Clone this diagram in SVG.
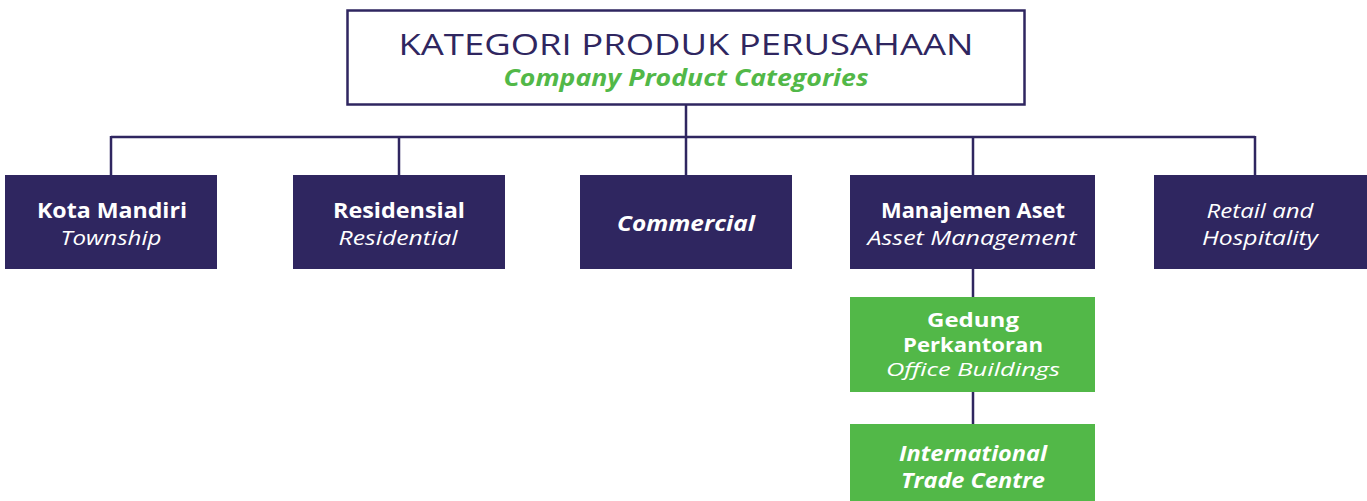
<svg xmlns="http://www.w3.org/2000/svg" width="1367" height="501" viewBox="0 0 1367 501">
<style>
text{font-family:"Open Sans",Lato,"Liberation Sans",sans-serif;text-anchor:middle}
.n{fill:#2f2660}
.g{fill:#52b848}
.b{font-weight:bold;font-size:20.5px;fill:#fff}
.i{font-style:italic;font-size:20.5px;fill:#fff}
.bi{font-weight:bold;font-style:italic;font-size:20.5px;fill:#fff}
.s{font-size:19px}
.c{stroke:#2f2660;stroke-width:2.5;fill:none}
</style>
<rect width="1367" height="501" fill="#fff"/>
<g id="connectors">
<path class="c" d="M686 105V137M111 137H1255M111 136V175M399 136V175M686 136V175M973 136V175M1255 136V175M973 269V297M973 392V424"/>
</g>
<g id="root">
<rect x="347.5" y="10.5" width="677" height="94" fill="#fff" stroke="#2f2660" stroke-width="2.5"/>
<text x="686" y="55" font-size="30" fill="#2f2660" font-family="Lato,sans-serif" textLength="575" lengthAdjust="spacingAndGlyphs">KATEGORI PRODUK PERUSAHAAN</text>
<text x="686" y="86" font-size="23" font-style="italic" font-weight="bold" fill="#52b848" font-family="Lato,sans-serif" textLength="365" lengthAdjust="spacingAndGlyphs">Company Product Categories</text>
</g>
<g id="township">
<rect class="n" x="5" y="175" width="212" height="94"/>
<text class="b" x="112" y="218" textLength="150" lengthAdjust="spacingAndGlyphs">Kota Mandiri</text>
<text class="i" x="111" y="245" textLength="101" lengthAdjust="spacingAndGlyphs">Township</text>
</g>
<g id="residential">
<rect class="n" x="293" y="175" width="212" height="94"/>
<text class="b" x="399" y="218" textLength="132" lengthAdjust="spacingAndGlyphs">Residensial</text>
<text class="i" x="398" y="245" textLength="119" lengthAdjust="spacingAndGlyphs">Residential</text>
</g>
<g id="commercial">
<rect class="n" x="580" y="175" width="212" height="94"/>
<text class="bi" x="686" y="231" textLength="138" lengthAdjust="spacingAndGlyphs">Commercial</text>
</g>
<g id="asset">
<rect class="n" x="850" y="175" width="245" height="94"/>
<text class="b" x="973" y="218" textLength="184" lengthAdjust="spacingAndGlyphs">Manajemen Aset</text>
<text class="i" x="972" y="245" textLength="209" lengthAdjust="spacingAndGlyphs">Asset Management</text>
</g>
<g id="retail">
<rect class="n" x="1154" y="175" width="213" height="94"/>
<text class="i" x="1260" y="218" textLength="107" lengthAdjust="spacingAndGlyphs">Retail and</text>
<text class="i" x="1260" y="245" textLength="116" lengthAdjust="spacingAndGlyphs">Hospitality</text>
</g>
<g id="office">
<rect class="g" x="850" y="297" width="245" height="95"/>
<text class="b s" x="973" y="327" textLength="92" lengthAdjust="spacingAndGlyphs">Gedung</text>
<text class="b s" x="973" y="352" textLength="140" lengthAdjust="spacingAndGlyphs">Perkantoran</text>
<text class="i s" x="973" y="376" textLength="174" lengthAdjust="spacingAndGlyphs">Office Buildings</text>
</g>
<g id="itc">
<rect class="g" x="850" y="424" width="245" height="77"/>
<text class="bi" x="973" y="461" textLength="148" lengthAdjust="spacingAndGlyphs">International</text>
<text class="bi" x="973" y="488" textLength="144" lengthAdjust="spacingAndGlyphs">Trade Centre</text>
</g>
</svg>
